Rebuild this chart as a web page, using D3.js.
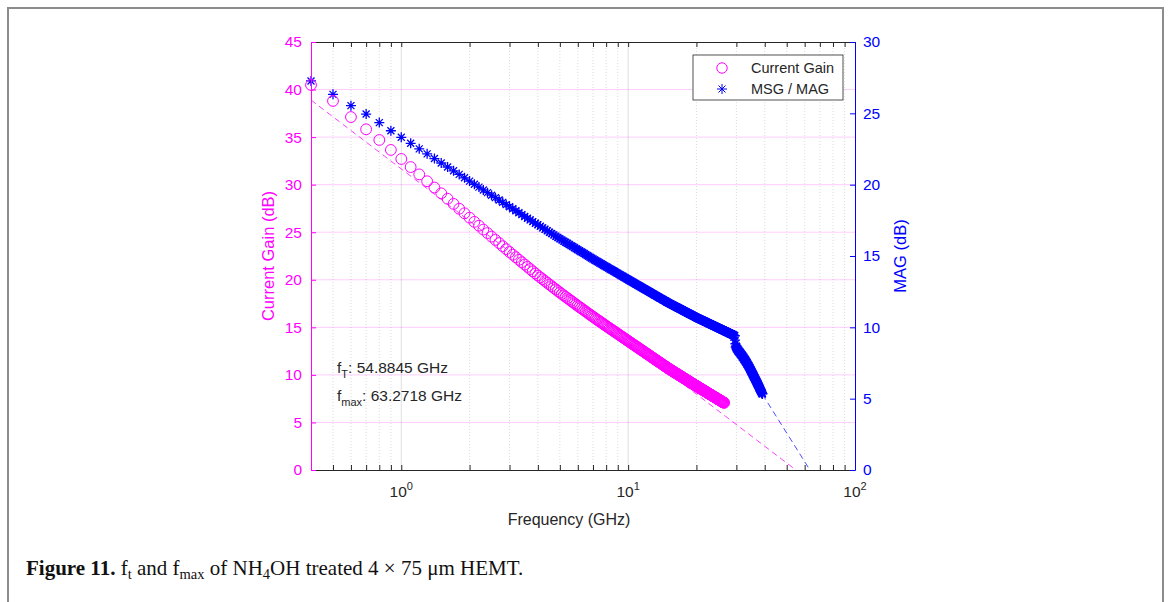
<!DOCTYPE html>
<html>
<head>
<meta charset="utf-8">
<script src="https://cdn.jsdelivr.net/npm/d3@7"></script>
<style>
  html, body { margin: 0; padding: 0; background: #fff; }
  svg { display: block; }
  text { font-family: "Liberation Sans", Arial, sans-serif; }
  .caption text { font-family: "Liberation Serif", "Times New Roman", serif; }
</style>
</head>
<body>
<div id="chart"></div>
<script>
// VNA sweep: 0.4 GHz upward in 0.1 GHz steps
const sweepStart = 0.4;
const sweepStep = 0.1;

// |h21| current gain (dB), left axis
const currentGain = [
  40.48, 38.80, 37.11, 35.82, 34.70, 33.65,
  32.70, 31.85, 31.08, 30.36, 29.70, 29.09, 28.52, 27.98, 27.47, 26.99,
  26.53, 26.09, 25.68, 25.28, 24.91, 24.54, 24.19, 23.86, 23.53, 23.22,
  22.92, 22.64, 22.37, 22.10, 21.85, 21.60, 21.36, 21.12, 20.89, 20.67,
  20.45, 20.25, 20.06, 19.87, 19.68, 19.50, 19.33, 19.15, 18.99, 18.82,
  18.66, 18.51, 18.36, 18.21, 18.07, 17.93, 17.79, 17.65, 17.52, 17.39,
  17.26, 17.14, 17.02, 16.90, 16.78, 16.67, 16.55, 16.44, 16.33, 16.22,
  16.12, 16.02, 15.91, 15.81, 15.71, 15.62, 15.52, 15.42, 15.33, 15.24,
  15.15, 15.06, 14.98, 14.89, 14.80, 14.72, 14.64, 14.56, 14.48, 14.40,
  14.32, 14.24, 14.16, 14.08, 14.01, 13.93, 13.86, 13.79, 13.71, 13.64,
  13.57, 13.50, 13.43, 13.36, 13.29, 13.22, 13.16, 13.09, 13.03, 12.96,
  12.90, 12.83, 12.77, 12.70, 12.64, 12.58, 12.52, 12.46, 12.40, 12.34,
  12.28, 12.22, 12.16, 12.10, 12.05, 11.99, 11.93, 11.88, 11.82, 11.77,
  11.71, 11.66, 11.60, 11.55, 11.50, 11.45, 11.39, 11.34, 11.29, 11.24,
  11.19, 11.14, 11.09, 11.04, 10.99, 10.94, 10.89, 10.84, 10.79, 10.75,
  10.70, 10.66, 10.61, 10.57, 10.53, 10.49, 10.44, 10.40, 10.36, 10.32,
  10.28, 10.24, 10.20, 10.16, 10.12, 10.08, 10.04, 10.00, 9.96, 9.92,
  9.88, 9.85, 9.81, 9.77, 9.73, 9.70, 9.66, 9.62, 9.59, 9.55,
  9.51, 9.48, 9.44, 9.40, 9.37, 9.33, 9.30, 9.26, 9.23, 9.19,
  9.16, 9.13, 9.09, 9.06, 9.02, 8.99, 8.96, 8.92, 8.89, 8.86,
  8.83, 8.80, 8.77, 8.74, 8.71, 8.67, 8.64, 8.61, 8.58, 8.55,
  8.52, 8.49, 8.46, 8.43, 8.40, 8.37, 8.35, 8.32, 8.29, 8.26,
  8.23, 8.20, 8.17, 8.14, 8.12, 8.09, 8.06, 8.03, 8.00, 7.98,
  7.95, 7.92, 7.90, 7.87, 7.84, 7.81, 7.79, 7.76, 7.73, 7.71,
  7.68, 7.66, 7.63, 7.60, 7.58, 7.55, 7.53, 7.50, 7.48, 7.45,
  7.42, 7.40, 7.37, 7.35, 7.32, 7.30, 7.28, 7.25, 7.23, 7.20,
  7.18, 7.15, 7.13, 7.11, 7.08, 7.06
];

// MSG / MAG (dB), right axis
const msgMag = [
  27.27, 26.33, 25.54, 24.95, 24.35, 23.78,
  23.32, 22.90, 22.51, 22.16, 21.83, 21.52, 21.24, 20.97, 20.72, 20.48,
  20.25, 20.03, 19.83, 19.63, 19.44, 19.26, 19.09, 18.92, 18.76, 18.60,
  18.45, 18.31, 18.17, 18.03, 17.90, 17.77, 17.65, 17.53, 17.41, 17.30,
  17.19, 17.08, 16.97, 16.87, 16.77, 16.67, 16.58, 16.48, 16.39, 16.30,
  16.21, 16.13, 16.04, 15.96, 15.89, 15.81, 15.73, 15.66, 15.58, 15.51,
  15.44, 15.37, 15.30, 15.24, 15.17, 15.10, 15.04, 14.98, 14.91, 14.85,
  14.79, 14.73, 14.68, 14.62, 14.57, 14.51, 14.46, 14.41, 14.35, 14.30,
  14.25, 14.20, 14.15, 14.10, 14.05, 14.01, 13.96, 13.91, 13.87, 13.82,
  13.78, 13.73, 13.69, 13.64, 13.60, 13.56, 13.51, 13.47, 13.43, 13.39,
  13.35, 13.31, 13.27, 13.23, 13.19, 13.16, 13.12, 13.08, 13.04, 13.01,
  12.97, 12.93, 12.90, 12.86, 12.83, 12.79, 12.76, 12.72, 12.69, 12.65,
  12.62, 12.59, 12.56, 12.52, 12.49, 12.46, 12.43, 12.40, 12.36, 12.33,
  12.30, 12.27, 12.24, 12.21, 12.18, 12.15, 12.12, 12.09, 12.06, 12.03,
  12.01, 11.98, 11.95, 11.92, 11.89, 11.87, 11.84, 11.81, 11.78, 11.76,
  11.73, 11.71, 11.68, 11.66, 11.64, 11.61, 11.59, 11.57, 11.54, 11.52,
  11.50, 11.47, 11.45, 11.43, 11.41, 11.39, 11.36, 11.34, 11.32, 11.30,
  11.28, 11.26, 11.24, 11.22, 11.20, 11.17, 11.15, 11.13, 11.11, 11.09,
  11.07, 11.05, 11.03, 11.01, 10.99, 10.97, 10.95, 10.94, 10.92, 10.90,
  10.88, 10.86, 10.84, 10.82, 10.80, 10.78, 10.77, 10.75, 10.73, 10.71,
  10.69, 10.67, 10.66, 10.64, 10.62, 10.61, 10.59, 10.58, 10.56, 10.54,
  10.53, 10.51, 10.50, 10.48, 10.47, 10.45, 10.44, 10.42, 10.41, 10.39,
  10.38, 10.36, 10.35, 10.33, 10.32, 10.30, 10.29, 10.27, 10.26, 10.24,
  10.23, 10.21, 10.20, 10.19, 10.17, 10.16, 10.14, 10.13, 10.12, 10.10,
  10.09, 10.07, 10.06, 10.05, 10.03, 10.02, 10.01, 9.99, 9.98, 9.97,
  9.95, 9.94, 9.93, 9.91, 9.90, 9.89, 9.88, 9.86, 9.85, 9.84,
  9.82, 9.81, 9.80, 9.79, 9.77, 9.76, 9.75, 9.74, 9.72, 9.71,
  9.70, 9.69, 9.68, 9.66, 9.65, 9.64, 9.63, 9.62, 9.60, 9.59,
  9.58, 9.57, 9.56, 9.54, 9.53, 9.52, 9.51, 9.50, 9.49, 9.48,
  9.46, 9.45, 9.44, 9.43, 9.42, 9.41, 9.10, 8.85, 8.62, 8.70,
  8.50, 8.58, 8.44, 8.52, 8.36, 8.47, 8.30, 8.41, 8.25, 8.33,
  8.20, 8.29, 8.12, 8.22, 8.07, 8.15, 8.01, 8.10, 7.93, 8.04,
  7.90, 7.98, 7.82, 7.93, 7.74, 7.85, 7.70, 7.79, 7.62, 7.73,
  7.56, 7.65, 7.50, 7.58, 7.42, 7.52, 7.36, 7.44, 7.28, 7.37,
  7.22, 7.30, 7.14, 7.22, 7.06, 7.15, 6.98, 7.07, 6.90, 6.99,
  6.83, 6.91, 6.74, 6.84, 6.66, 6.75, 6.58, 6.68, 6.50, 6.60,
  6.45, 6.52, 6.36, 6.45, 6.28, 6.37, 6.21, 6.29, 6.12, 6.22,
  6.05, 6.13, 5.97, 6.06, 5.90, 5.98, 5.82, 5.91, 5.74, 5.83,
  5.68, 5.74, 5.60, 5.66, 5.52, 5.58, 5.44, 5.50, 5.38, 5.42,
  5.33, 5.36
];

// extrapolation lines [GHz, dB]
const ftLine = [[0.4, 38.9], [54.8845, 0]];
const fmaxLine = [[39.1, 5.3], [63.2718, 0]];

const leftTicks = [0, 5, 10, 15, 20, 25, 30, 35, 40, 45];
const rightTicks = [0, 5, 10, 15, 20, 25, 30];
const decadeTicks = [1, 10, 100];
const minorTicks = [0.5, 0.6, 0.7, 0.8, 0.9, 2, 3, 4, 5, 6, 7, 8, 9, 20, 30, 40, 50, 60, 70, 80, 90];

const fT = "54.8845";
const fMax = "63.2718";

const MAGENTA = "#ff00ff";
const BLUE = "#0000ff";
const INK = "#262626";

const svg = d3.select("#chart").append("svg")
  .attr("width", 1172)
  .attr("height", 602);

// page frame
svg.append("rect")
  .attr("x", 8).attr("y", 8)
  .attr("width", 1155).attr("height", 620)
  .attr("fill", "none")
  .attr("stroke", "#8c8c8c")
  .attr("stroke-width", 2);

const plot = { left: 311, right: 855, top: 42, bottom: 470 };

const x = d3.scaleLog().domain([0.4, 100]).range([plot.left, plot.right]);
const yL = d3.scaleLinear().domain([0, 45]).range([plot.bottom, plot.top]);
const yR = d3.scaleLinear().domain([0, 30]).range([plot.bottom, plot.top]);

const freq = i => +(sweepStart + i * sweepStep).toFixed(1);

// grid
const grid = svg.append("g").attr("class", "grid");

grid.selectAll("line.hgrid")
  .data(leftTicks.slice(1, -1))
  .join("line")
  .attr("class", "hgrid")
  .attr("x1", plot.left).attr("x2", plot.right)
  .attr("y1", d => yL(d)).attr("y2", d => yL(d))
  .attr("stroke", "rgba(255,0,255,0.2)")
  .attr("stroke-width", 1);

grid.selectAll("line.vminor")
  .data(minorTicks)
  .join("line")
  .attr("class", "vminor")
  .attr("x1", d => x(d)).attr("x2", d => x(d))
  .attr("y1", plot.top).attr("y2", plot.bottom)
  .attr("stroke", "rgba(38,38,38,0.16)")
  .attr("stroke-dasharray", "1,2");

grid.selectAll("line.vmajor")
  .data(decadeTicks.slice(0, 2))
  .join("line")
  .attr("class", "vmajor")
  .attr("x1", d => x(d)).attr("x2", d => x(d))
  .attr("y1", plot.top).attr("y2", plot.bottom)
  .attr("stroke", "rgba(38,38,38,0.15)");

// dashed extrapolations (under the markers)
const lineL = d3.line().x(d => x(d[0])).y(d => yL(d[1]));
const lineR = d3.line().x(d => x(d[0])).y(d => yR(d[1]));

svg.append("path")
  .attr("d", lineL(ftLine))
  .attr("fill", "none")
  .attr("stroke", MAGENTA)
  .attr("stroke-opacity", 0.75)
  .attr("stroke-dasharray", "6,4");

svg.append("path")
  .attr("d", lineR(fmaxLine))
  .attr("fill", "none")
  .attr("stroke", BLUE)
  .attr("stroke-opacity", 0.7)
  .attr("stroke-dasharray", "6,4");

// MSG / MAG asterisks
const starPath = "M-5,0H5M0,-5V5M-3.5,-3.5L3.5,3.5M-3.5,3.5L3.5,-3.5";

svg.append("g").selectAll("path.star")
  .data(msgMag)
  .join("path")
  .attr("class", "star")
  .attr("transform", (d, i) => `translate(${x(freq(i))},${yR(d)})`)
  .attr("d", starPath)
  .attr("fill", "none")
  .attr("stroke", BLUE)
  .attr("stroke-width", 1.3);

// current gain circles
svg.append("g").selectAll("circle.h21")
  .data(currentGain)
  .join("circle")
  .attr("class", "h21")
  .attr("cx", (d, i) => x(freq(i)))
  .attr("cy", d => yL(d))
  .attr("r", 5.4)
  .attr("fill", "none")
  .attr("stroke", MAGENTA)
  .attr("stroke-width", 1);

// axes, ticks pointing inward
const axisBottom = d3.axisBottom(x)
  .tickValues(decadeTicks.concat(minorTicks))
  .tickSizeInner(-5).tickSizeOuter(0)
  .tickFormat("");
const axisTop = d3.axisTop(x)
  .tickValues(decadeTicks.concat(minorTicks))
  .tickSizeInner(-5).tickSizeOuter(0)
  .tickFormat("");

svg.append("g")
  .attr("transform", `translate(0,${plot.bottom})`)
  .call(axisBottom)
  .call(g => g.selectAll("path, line").attr("stroke", INK));

svg.append("g")
  .attr("transform", `translate(0,${plot.top})`)
  .call(axisTop)
  .call(g => g.selectAll("path, line").attr("stroke", INK));

svg.append("g")
  .attr("transform", `translate(${plot.left},0)`)
  .call(d3.axisLeft(yL).tickValues(leftTicks).tickSizeInner(-5).tickSizeOuter(0).tickPadding(9))
  .call(g => g.selectAll("path, line").attr("stroke", MAGENTA))
  .call(g => g.selectAll("text")
    .attr("fill", MAGENTA)
    .attr("font-size", 15.5)
    .attr("font-family", "Liberation Sans, Arial, sans-serif"));

svg.append("g")
  .attr("transform", `translate(${plot.right},0)`)
  .call(d3.axisRight(yR).tickValues(rightTicks).tickSizeInner(-5).tickSizeOuter(0).tickPadding(8))
  .call(g => g.selectAll("path, line").attr("stroke", BLUE))
  .call(g => g.selectAll("text")
    .attr("fill", BLUE)
    .attr("font-size", 15.5)
    .attr("font-family", "Liberation Sans, Arial, sans-serif"));

// decade labels 10^n
const decLabels = svg.append("g").selectAll("text.dec")
  .data(decadeTicks)
  .join("text")
  .attr("class", "dec")
  .attr("x", d => x(d))
  .attr("y", 497)
  .attr("text-anchor", "middle")
  .attr("fill", INK)
  .attr("font-size", 15.5);
decLabels.append("tspan").text("10");
decLabels.append("tspan")
  .attr("dy", -7)
  .attr("font-size", 11)
  .text(d => Math.round(Math.log10(d)));

// axis titles
svg.append("text")
  .attr("x", 569).attr("y", 525)
  .attr("text-anchor", "middle")
  .attr("fill", INK)
  .attr("font-size", 16)
  .text("Frequency (GHz)");

svg.append("text")
  .attr("transform", "translate(274,256) rotate(-90)")
  .attr("text-anchor", "middle")
  .attr("fill", MAGENTA)
  .attr("font-size", 16.5)
  .text("Current Gain (dB)");

svg.append("text")
  .attr("transform", "translate(906,256) rotate(-90)")
  .attr("text-anchor", "middle")
  .attr("fill", BLUE)
  .attr("font-size", 16.5)
  .text("MAG (dB)");

// fT / fmax annotations
const note1 = svg.append("text")
  .attr("x", 337).attr("y", 373)
  .attr("fill", INK).attr("font-size", 15.5);
note1.append("tspan").text("f");
note1.append("tspan").attr("dy", 5).attr("font-size", 11).text("T");
note1.append("tspan").attr("dy", -5).text(`: ${fT} GHz`);

const note2 = svg.append("text")
  .attr("x", 337).attr("y", 401)
  .attr("fill", INK).attr("font-size", 15.5);
note2.append("tspan").text("f");
note2.append("tspan").attr("dy", 5).attr("font-size", 11).text("max");
note2.append("tspan").attr("dy", -5).text(`: ${fMax} GHz`);

// legend
const legend = svg.append("g").attr("transform", "translate(693,55)");
legend.append("rect")
  .attr("width", 150).attr("height", 45)
  .attr("fill", "#fff")
  .attr("stroke", INK)
  .attr("stroke-width", 0.8);
legend.append("circle")
  .attr("cx", 29).attr("cy", 13)
  .attr("r", 5.2)
  .attr("fill", "none")
  .attr("stroke", MAGENTA);
legend.append("path")
  .attr("transform", "translate(29,34)")
  .attr("d", starPath)
  .attr("fill", "none")
  .attr("stroke", BLUE);
legend.append("text")
  .attr("x", 58).attr("y", 18)
  .attr("fill", INK).attr("font-size", 14.5)
  .text("Current Gain");
legend.append("text")
  .attr("x", 58).attr("y", 39)
  .attr("fill", INK).attr("font-size", 14.5)
  .text("MSG / MAG");

// caption
const cap = svg.append("g").attr("class", "caption")
  .append("text")
  .attr("x", 26).attr("y", 575)
  .attr("fill", "#111")
  .attr("font-size", 21);
cap.append("tspan").attr("font-weight", "bold").text("Figure 11.");
cap.append("tspan").text(" f");
cap.append("tspan").attr("dy", 4).attr("font-size", 14.5).text("t");
cap.append("tspan").attr("dy", -4).text(" and f");
cap.append("tspan").attr("dy", 4).attr("font-size", 14.5).text("max");
cap.append("tspan").attr("dy", -4).text(" of NH");
cap.append("tspan").attr("dy", 4).attr("font-size", 14.5).text("4");
cap.append("tspan").attr("dy", -4).text("OH treated 4 \u00d7 75 \u03bcm HEMT.");
</script>
</body>
</html>
